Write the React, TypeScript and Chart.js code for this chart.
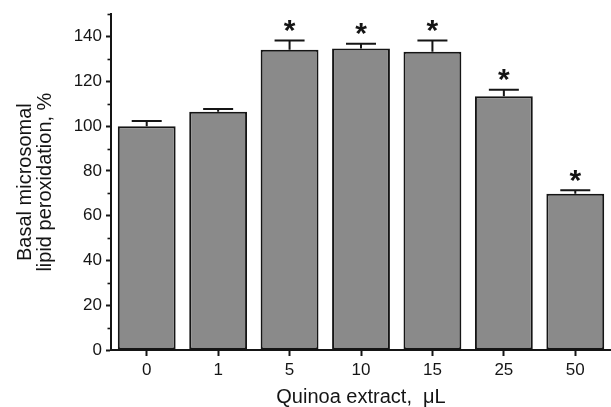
import React, { useEffect, useRef } from "react";
import { Chart, registerables } from "chart.js";

Chart.register(...registerables);

const categories = ["0", "1", "5", "10", "15", "25", "50"];
const values = [100, 106.4, 134.1, 134.7, 133.2, 113.4, 69.8];
const errors = [2.3, 1.3, 4.2, 2.1, 5.1, 2.9, 1.6];
const significance = ["", "", "*", "*", "*", "*", "*"];
const yMajorTicks = [0, 20, 40, 60, 80, 100, 120, 140];
const yMinorTicks = [10, 30, 50, 70, 90, 110, 130, 150];
const xTitle = "Quinoa extract,  \u03bcL";
const yTitle = ["Basal microsomal", "lipid peroxidation, %"];

const FONT = '"Liberation Sans", Arial, Helvetica, sans-serif';
const INK = "#151515";

const decorPlugin = {
  id: "decor",
  afterDraw(chart: any) {
    const ctx = chart.ctx;
    const ys = chart.scales.y;
    ctx.save();
    ctx.strokeStyle = INK;
    ctx.lineWidth = 1.6;
    yMinorTicks.forEach((v) => {
      const y = Math.round(ys.getPixelForValue(v)) + 0.5;
      ctx.beginPath();
      ctx.moveTo(ys.right - 3.5, y);
      ctx.lineTo(ys.right, y);
      ctx.stroke();
    });
    ctx.restore();
  },
  afterDatasetsDraw(chart: any) {
    const ctx = chart.ctx;
    const ys = chart.scales.y;
    const meta = chart.getDatasetMeta(0);
    ctx.save();
    ctx.strokeStyle = INK;
    ctx.fillStyle = INK;
    ctx.lineWidth = 2;
    meta.data.forEach((bar: any, i: number) => {
      const x = bar.x;
      const yTop = ys.getPixelForValue(values[i]);
      const yCap = ys.getPixelForValue(values[i] + errors[i]);
      ctx.beginPath();
      ctx.moveTo(x, yTop);
      ctx.lineTo(x, yCap);
      ctx.moveTo(x - 15, yCap);
      ctx.lineTo(x + 15, yCap);
      ctx.stroke();
      if (significance[i]) {
        ctx.font = "bold 30px " + FONT;
        ctx.textAlign = "center";
        ctx.textBaseline = "alphabetic";
        const m = ctx.measureText(significance[i]);
        const h = m.actualBoundingBoxAscent - m.actualBoundingBoxDescent;
        const cy = yCap - 14.5;
        const baseline = cy + m.actualBoundingBoxAscent - (m.actualBoundingBoxAscent + m.actualBoundingBoxDescent) / 2;
        void h;
        ctx.fillText(significance[i], x, baseline);
      }
    });
    ctx.restore();
  },
};

export default function App() {
  const ref = useRef<HTMLCanvasElement | null>(null);
  useEffect(() => {
    if (!ref.current) return;
    const chart = new Chart(ref.current, {
      type: "bar",
      data: {
        labels: categories,
        datasets: [
          {
            data: values,
            backgroundColor: "#8a8a8a",
            borderColor: INK,
            borderWidth: 2,
            borderSkipped: false,
            barPercentage: 0.81,
            categoryPercentage: 1,
          },
        ],
      },
      options: {
        responsive: false,
        animation: false,
        layout: { padding: { top: 13, right: 0, left: 0, bottom: 0 } },
        plugins: { legend: { display: false }, tooltip: { enabled: false } },
        scales: {
          x: {
            grid: {
              display: true,
              drawOnChartArea: false,
              drawTicks: true,
              tickLength: 6,
              tickWidth: 2,
              tickColor: INK,
              offset: false,
            },
            border: { display: true, color: INK, width: 2 },
            ticks: { color: INK, font: { size: 17, family: FONT }, padding: 4 },
            title: {
              display: true,
              text: xTitle,
              color: INK,
              font: { size: 20, family: FONT, lineHeight: 1 },
              padding: { top: 0, bottom: 0 },
            },
            afterFit(scale: any) {
              scale.height = 57;
            },
          },
          y: {
            min: 0,
            max: 150,
            afterBuildTicks(scale: any) {
              scale.ticks = yMajorTicks.map((v) => ({ value: v }));
            },
            grid: {
              display: true,
              drawOnChartArea: false,
              drawTicks: true,
              tickLength: 5,
              tickWidth: 2,
              tickColor: INK,
            },
            border: { display: true, color: INK, width: 2 },
            ticks: { color: INK, font: { size: 17, family: FONT }, padding: 4 },
            title: {
              display: true,
              text: yTitle,
              color: INK,
              font: { size: 20, family: FONT, lineHeight: 1 },
              padding: { top: 15, bottom: 0 },
            },
            afterFit(scale: any) {
              scale.width = 111;
            },
          },
        },
      },
      plugins: [decorPlugin],
    });
    return () => chart.destroy();
  }, []);
  return (
    <div style={{ position: "fixed", left: 0, top: 0, width: 611, height: 407, background: "#fff" }}>
      <canvas ref={ref} width={611} height={407} />
    </div>
  );
}
